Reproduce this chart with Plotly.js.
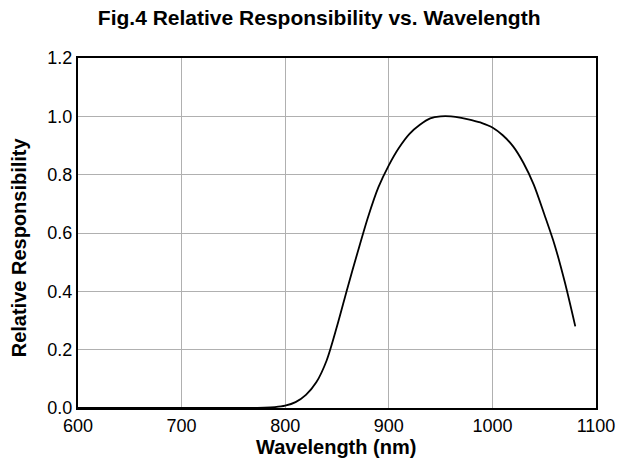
<!DOCTYPE html>
<html>
<head>
<meta charset="utf-8">
<script src="https://cdn.plot.ly/plotly-3.0.1.min.js"></script>
<style>html,body{margin:0;padding:0;background:#fff;}#chart{width:621px;height:467px;}</style>
</head>
<body>
<div id="chart"></div>
<script>
const wavelength = [600, 700, 760, 780, 790, 800, 810, 820, 830, 840, 850, 860, 870, 880, 890, 900, 910, 920, 930, 940, 950, 960, 970, 980, 990, 1000, 1010, 1020, 1030, 1040, 1050, 1060, 1070, 1080];
const response = [0, 0, 0, 0.001, 0.003, 0.008, 0.02, 0.045, 0.088, 0.163, 0.28, 0.41, 0.535, 0.655, 0.757, 0.832, 0.893, 0.94, 0.971, 0.993, 1.0, 1.0, 0.995, 0.987, 0.977, 0.962, 0.935, 0.897, 0.84, 0.765, 0.665, 0.56, 0.43, 0.28];
const xTicks = [600, 700, 800, 900, 1000, 1100];
const yTicks = [0, 0.2, 0.4, 0.6, 0.8, 1.0, 1.2];
const titleText = '<b>Fig.4 Relative Responsibility vs. Wavelength</b>';
const xTitle = '<b>Wavelength (nm)</b>';
const yTitle = '<b>Relative Responsibility</b>';

const font = 'Liberation Sans, Arial, sans-serif';
Plotly.newPlot('chart', [{
  x: wavelength, y: response, type: 'scatter', mode: 'lines',
  line: {color: '#000', width: 1.8, shape: 'spline', smoothing: 0.8},
  hoverinfo: 'skip'
}], {
  width: 621, height: 467,
  margin: {l: 78, r: 25, t: 58, b: 59},
  paper_bgcolor: '#fff', plot_bgcolor: '#fff',
  showlegend: false,
  font: {family: font, color: '#000', size: 18},
  title: {text: titleText, x: 0.514, xanchor: 'center', y: 0.962, yanchor: 'middle', font: {family: font, size: 21, color: '#000'}},
  xaxis: {
    range: [600, 1100], tickvals: xTicks, ticktext: xTicks.map(String),
    showgrid: true, gridcolor: '#b0b0b0', gridwidth: 1,
    showline: true, linecolor: '#000', linewidth: 2, mirror: true,
    ticks: '', zeroline: false,
    tickfont: {family: font, size: 18, color: '#000'}
  },
  yaxis: {
    range: [0, 1.2], tickvals: yTicks, ticktext: yTicks.map(v => v.toFixed(1)),
    showgrid: true, gridcolor: '#b0b0b0', gridwidth: 1,
    showline: true, linecolor: '#000', linewidth: 2, mirror: true,
    ticks: '', zeroline: false,
    tickfont: {family: font, size: 18, color: '#000'}
  },
  annotations: [{
    text: yTitle, xref: 'paper', yref: 'paper', x: -0.1133, y: 0.46,
    xanchor: 'center', yanchor: 'middle', textangle: -90, showarrow: false,
    font: {family: font, size: 20, color: '#000'}
  }, {
    text: xTitle, xref: 'paper', yref: 'paper', x: 0.4987, y: -0.112,
    xanchor: 'center', yanchor: 'middle', showarrow: false,
    font: {family: font, size: 20, color: '#000'}
  }]
}, {displayModeBar: false, staticPlot: true});
</script>
</body>
</html>
